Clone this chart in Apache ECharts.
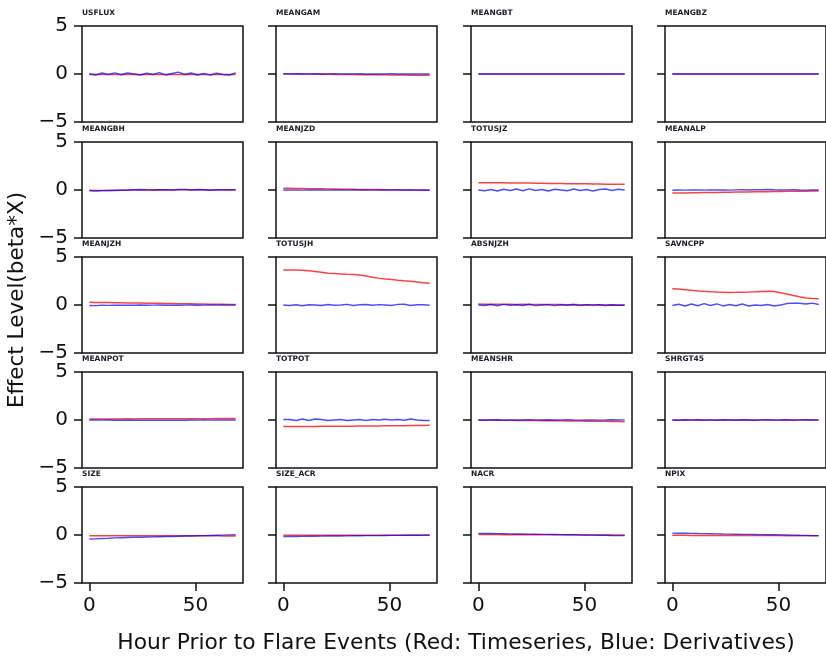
<!DOCTYPE html>
<html>
<head>
<meta charset="utf-8">
<script src="https://cdn.jsdelivr.net/npm/echarts@6/dist/echarts.min.js"></script>
<style>html,body{margin:0;padding:0;background:#fff}#c{width:826px;height:657px}</style>
</head>
<body>
<div id="c"></div>
<script>
const HOURS = [0,3,6,9,12,15,18,21,24,27,30,33,36,39,42,45,48,51,54,57,60,63,66,69];
const NAMES = ['USFLUX','MEANGAM','MEANGBT','MEANGBZ','MEANGBH','MEANJZD','TOTUSJZ','MEANALP','MEANJZH','TOTUSJH','ABSNJZH','SAVNCPP','MEANPOT','TOTPOT','MEANSHR','SHRGT45','SIZE','SIZE_ACR','NACR','NPIX'];
const X_TICKS = [0, 50];
const Y_TICKS = [-5, 0, 5];

const USFLUX_R = [-0.05,-0.06,-0.05,-0.04,-0.05,-0.06,-0.05,-0.05,-0.04,-0.05,-0.06,-0.05,-0.05,-0.04,-0.05,-0.06,-0.05,-0.05,-0.04,-0.05,-0.05,-0.06,-0.05,-0.05];
const USFLUX_B = [0.05,-0.1,0.1,-0.05,0.12,-0.08,0.1,0.0,-0.1,0.08,-0.05,0.15,-0.1,0.05,0.2,-0.05,0.1,-0.1,0.05,-0.12,0.08,-0.05,-0.1,0.1];
const MEANGAM_R = [0,0,-0.01,-0.01,-0.02,-0.02,-0.03,-0.03,-0.04,-0.05,-0.05,-0.06,-0.07,-0.07,-0.08,-0.09,-0.09,-0.1,-0.11,-0.11,-0.12,-0.13,-0.13,-0.14];
const MEANGAM_B = [0.02,0.01,0.02,0.0,0.01,0.02,0.0,0.01,0.02,0.01,0.0,0.01,0.02,0.0,0.01,0.0,0.01,0.02,0.0,0.01,0.0,0.01,0.0,0.0];
const MEANGBT_R = [0,0,0,0,0,0,0,0,0,0,0,0,0,0,0,0,0,0,0,0,0,0,0,0];
const MEANGBT_B = [0,0,0,0,0,0,0,0,0,0,0,0,0,0,0,0,0,0,0,0,0,0,0,0];
const MEANGBZ_R = [0,0,0,0,0,0,0,0,0,0,0,0,0,0,0,0,0,0,0,0,0,0,0,0];
const MEANGBZ_B = [0,0,0,0,0,0,0,0,0,0,0,0,0,0,0,0,0,0,0,0,0,0,0,0];
const MEANGBH_R = [-0.05,-0.06,-0.05,-0.04,-0.03,-0.02,-0.02,-0.01,0,0.01,0.01,0.02,0.01,0.01,0.02,0.02,0.01,0.02,0.02,0.01,0.01,0.02,0.02,0.02];
const MEANGBH_B = [-0.05,-0.1,-0.06,-0.04,-0.05,-0.02,0.0,0.03,0.05,0.02,0.0,0.03,0.04,0.0,0.05,0.06,0.0,0.05,0.03,-0.02,0.02,0.03,0.0,0.03];
const MEANJZD_R = [0.18,0.17,0.16,0.15,0.14,0.13,0.12,0.11,0.1,0.09,0.08,0.07,0.06,0.06,0.05,0.04,0.03,0.03,0.02,0.01,0.01,0.0,0.0,-0.01];
const MEANJZD_B = [0.0,0.01,0.0,-0.01,0.0,0.01,0.0,-0.01,0.0,0.0,-0.01,0.0,0.01,0.0,-0.01,0.0,0.0,-0.01,0.0,0.01,0.0,-0.01,-0.02,-0.02];
const TOTUSJZ_R = [0.76,0.76,0.76,0.75,0.75,0.74,0.74,0.73,0.72,0.71,0.7,0.69,0.68,0.67,0.66,0.65,0.64,0.64,0.63,0.62,0.61,0.6,0.6,0.59];
const TOTUSJZ_B = [0.0,-0.08,0.05,-0.1,0.08,-0.05,0.1,-0.08,0.12,-0.05,0.05,-0.1,0.08,0.0,-0.08,0.1,-0.05,0.05,-0.1,0.05,0.1,-0.05,0.08,0.0];
const MEANALP_R = [-0.32,-0.31,-0.3,-0.29,-0.28,-0.27,-0.26,-0.25,-0.24,-0.23,-0.22,-0.21,-0.2,-0.19,-0.18,-0.17,-0.16,-0.15,-0.14,-0.13,-0.12,-0.12,-0.11,-0.1];
const MEANALP_B = [-0.02,0.0,-0.01,0.0,0.01,-0.01,0.0,0.01,0.0,-0.01,0.01,0.02,0.0,0.02,0.03,0.05,0.02,0.0,0.01,0.02,0.0,-0.01,0.0,0.0];
const MEANJZH_R = [0.28,0.27,0.26,0.25,0.24,0.23,0.22,0.21,0.2,0.19,0.18,0.17,0.16,0.15,0.14,0.13,0.12,0.11,0.1,0.09,0.08,0.07,0.06,0.05];
const MEANJZH_B = [-0.05,-0.06,-0.03,-0.04,-0.02,-0.03,-0.01,-0.02,0.0,-0.02,-0.01,0.0,-0.02,-0.01,-0.03,-0.01,0.0,-0.02,-0.01,0.0,-0.01,0.0,-0.01,0.0];
const TOTUSJH_R = [3.65,3.65,3.64,3.62,3.58,3.5,3.4,3.3,3.27,3.24,3.2,3.17,3.12,3.02,2.9,2.8,2.72,2.65,2.58,2.52,2.47,2.4,2.33,2.26];
const TOTUSJH_B = [0.0,-0.05,0.03,-0.08,0.02,0.0,-0.05,0.05,-0.03,0.0,0.06,-0.05,0.02,0.05,-0.03,0.04,0.0,-0.05,0.06,0.08,-0.05,0.03,0.02,-0.02];
const ABSNJZH_R = [0.1,0.09,0.08,0.09,0.07,0.08,0.06,0.07,0.05,0.06,0.05,0.04,0.05,0.04,0.03,0.04,0.03,0.02,0.03,0.02,0.01,0.02,0.01,0.0];
const ABSNJZH_B = [0.0,-0.05,0.05,-0.08,0.06,-0.03,0.02,-0.05,0.08,-0.06,0.0,0.04,-0.07,0.03,-0.02,0.05,-0.06,0.02,-0.04,0.03,-0.05,0.0,-0.03,-0.02];
const SAVNCPP_R = [1.7,1.66,1.6,1.53,1.47,1.42,1.38,1.35,1.33,1.31,1.32,1.34,1.35,1.37,1.4,1.43,1.4,1.28,1.15,1.0,0.85,0.74,0.68,0.66];
const SAVNCPP_B = [-0.05,0.08,-0.1,0.1,-0.08,0.15,-0.05,0.12,-0.1,0.05,-0.08,0.1,-0.1,0.0,-0.05,0.05,-0.1,0.0,0.15,0.2,0.18,0.1,0.2,0.05];
const MEANPOT_R = [0.1,0.1,0.11,0.1,0.11,0.11,0.12,0.11,0.12,0.12,0.12,0.13,0.12,0.13,0.13,0.14,0.13,0.14,0.14,0.14,0.15,0.15,0.15,0.15];
const MEANPOT_B = [0.0,0.01,-0.01,0.0,-0.02,-0.01,-0.03,-0.02,-0.03,-0.02,-0.03,-0.01,-0.02,-0.03,-0.01,-0.02,0.0,-0.01,0.0,-0.01,0.0,0.01,0.0,0.0];
const TOTPOT_R = [-0.69,-0.69,-0.68,-0.68,-0.67,-0.67,-0.66,-0.66,-0.65,-0.65,-0.64,-0.64,-0.63,-0.63,-0.62,-0.62,-0.61,-0.6,-0.6,-0.59,-0.58,-0.57,-0.56,-0.55];
const TOTPOT_B = [0.05,0.05,-0.05,0.1,-0.05,0.1,0.05,-0.05,0.0,0.05,-0.05,0.0,0.05,-0.05,0.05,0.0,0.08,0.0,0.05,-0.03,0.1,0.0,-0.05,-0.05];
const MEANSHR_R = [0,-0.01,-0.01,-0.02,-0.03,-0.03,-0.04,-0.05,-0.05,-0.06,-0.07,-0.08,-0.08,-0.09,-0.1,-0.11,-0.11,-0.12,-0.13,-0.14,-0.14,-0.15,-0.16,-0.17];
const MEANSHR_B = [0.0,-0.02,0.0,0.02,-0.03,0.0,0.01,0.0,0.03,0.01,0.0,0.02,0.0,0.01,0.02,0.0,-0.01,0.0,0.01,-0.01,0.0,0.02,0.0,0.01];
const SHRGT45_R = [0,0,0,0,0,0,0,0,0,0,0,0,0,0,0,0,0,0,0,0,0,0,0,0];
const SHRGT45_B = [0.0,-0.02,0.02,-0.01,0.02,-0.02,0.01,-0.02,0.02,0.0,-0.02,0.02,0.0,-0.02,0.01,0.02,-0.01,0.0,0.02,-0.02,0.01,0.03,0.0,0.01];
const SIZE_R = [-0.07,-0.07,-0.07,-0.07,-0.07,-0.07,-0.07,-0.07,-0.08,-0.08,-0.08,-0.08,-0.08,-0.08,-0.08,-0.09,-0.09,-0.09,-0.09,-0.09,-0.09,-0.1,-0.1,-0.1];
const SIZE_B = [-0.42,-0.4,-0.37,-0.34,-0.3,-0.28,-0.26,-0.24,-0.23,-0.21,-0.2,-0.18,-0.16,-0.15,-0.13,-0.11,-0.1,-0.08,-0.07,-0.05,-0.03,-0.01,0.01,0.03];
const SIZE_ACR_R = [-0.03,-0.03,-0.03,-0.03,-0.03,-0.03,-0.03,-0.03,-0.03,-0.03,-0.03,-0.03,-0.03,-0.03,-0.03,-0.03,-0.03,-0.03,-0.03,-0.03,-0.03,-0.03,-0.03,-0.03];
const SIZE_ACR_B = [-0.17,-0.16,-0.15,-0.14,-0.13,-0.13,-0.12,-0.11,-0.1,-0.1,-0.09,-0.08,-0.08,-0.07,-0.06,-0.06,-0.05,-0.04,-0.04,-0.03,-0.02,-0.02,-0.01,0.0];
const NACR_R = [0.04,0.04,0.04,0.04,0.03,0.03,0.03,0.03,0.03,0.03,0.02,0.02,0.02,0.02,0.02,0.02,0.01,0.01,0.01,0.01,0.01,0.0,0.0,0.0];
const NACR_B = [0.17,0.16,0.15,0.14,0.13,0.12,0.11,0.1,0.09,0.08,0.07,0.06,0.05,0.04,0.03,0.02,0.01,0.0,-0.01,-0.02,-0.03,-0.05,-0.06,-0.07];
const NPIX_R = [-0.03,-0.03,-0.03,-0.04,-0.04,-0.04,-0.04,-0.05,-0.05,-0.05,-0.05,-0.05,-0.06,-0.06,-0.06,-0.06,-0.06,-0.06,-0.07,-0.07,-0.07,-0.07,-0.07,-0.07];
const NPIX_B = [0.2,0.19,0.18,0.17,0.15,0.14,0.13,0.12,0.1,0.09,0.08,0.07,0.06,0.05,0.04,0.03,0.02,0.01,0.0,-0.01,-0.03,-0.04,-0.06,-0.07];

const RED = [USFLUX_R,MEANGAM_R,MEANGBT_R,MEANGBZ_R,MEANGBH_R,MEANJZD_R,TOTUSJZ_R,MEANALP_R,MEANJZH_R,TOTUSJH_R,ABSNJZH_R,SAVNCPP_R,MEANPOT_R,TOTPOT_R,MEANSHR_R,SHRGT45_R,SIZE_R,SIZE_ACR_R,NACR_R,NPIX_R];
const BLUE = [USFLUX_B,MEANGAM_B,MEANGBT_B,MEANGBZ_B,MEANGBH_B,MEANJZD_B,TOTUSJZ_B,MEANALP_B,MEANJZH_B,TOTUSJH_B,ABSNJZH_B,SAVNCPP_B,MEANPOT_B,TOTPOT_B,MEANSHR_B,SHRGT45_B,SIZE_B,SIZE_ACR_B,NACR_B,NPIX_B];

const COL_LEFT = [82, 276, 471, 665];
const ROW_TOP = [26, 142, 257, 372, 487];
const W = 161, H = 96;
const FONT = 'DejaVu Sans';

const grids = [], xAxes = [], yAxes = [], series = [], titles = [];
NAMES.forEach((name, i) => {
  const r = Math.floor(i / 4), c = i % 4;
  grids.push({left: COL_LEFT[c], top: ROW_TOP[r], width: W, height: H, show: true, borderColor: '#111', borderWidth: 1.5, backgroundColor: '#fff'});
  const last = r === 4;
  xAxes.push({
    type: 'value', gridIndex: i, min: -3.45, max: 72.45, position: 'bottom',
    splitLine: {show: false},
    axisLine: {show: false, onZero: false},
    axisTick: {show: last, customValues: X_TICKS, length: 8, inside: false, lineStyle: {color: '#111', width: 1.5}},
    axisLabel: {show: last, customValues: X_TICKS, fontFamily: FONT, fontSize: 20, color: '#111', margin: 13}
  });
  yAxes.push({
    type: 'value', gridIndex: i, min: -5, max: 5, interval: 5, position: 'left',
    splitLine: {show: false},
    axisLine: {show: false, onZero: false},
    axisTick: {show: true, length: 8, lineStyle: {color: '#111', width: 1.5}},
    axisLabel: {show: c === 0, fontFamily: FONT, fontSize: 20, color: '#111', margin: 14,
      formatter: v => v < 0 ? '\u2212' + Math.abs(v) : String(v)}
  });
  titles.push({text: name, left: COL_LEFT[c], top: ROW_TOP[r] - 17,
    textStyle: {fontFamily: FONT, fontSize: 7.5, fontWeight: 'bold', color: '#1b1b2a'}, padding: 0});
  series.push({type: 'line', xAxisIndex: i, yAxisIndex: i, showSymbol: false, silent: true,
    data: HOURS.map((h, k) => [h, RED[i][k]]),
    lineStyle: {color: 'rgba(255,0,0,0.75)', width: 1.5}});
  series.push({type: 'line', xAxisIndex: i, yAxisIndex: i, showSymbol: false, silent: true,
    data: HOURS.map((h, k) => [h, BLUE[i][k]]),
    lineStyle: {color: 'rgba(0,0,255,0.7)', width: 1.4}});
});

const chart = echarts.init(document.getElementById('c'), null, {renderer: 'canvas'});
chart.setOption({
  animation: false,
  backgroundColor: '#fff',
  title: titles,
  grid: grids,
  xAxis: xAxes,
  yAxis: yAxes,
  series: series,
  graphic: [
    {type: 'text', x: 456, y: 643, style: {text: 'Hour Prior to Flare Events (Red: Timeseries, Blue: Derivatives)', fontFamily: FONT, fontSize: 21.8, fill: '#111', align: 'center', verticalAlign: 'middle'}},
    {type: 'text', x: 6, y: 300, rotation: Math.PI / 2, style: {text: 'Effect Level(beta*X)', fontFamily: FONT, fontSize: 21.5, fill: '#111', align: 'center', verticalAlign: 'top'}}
  ]
});
</script>
</body>
</html>
